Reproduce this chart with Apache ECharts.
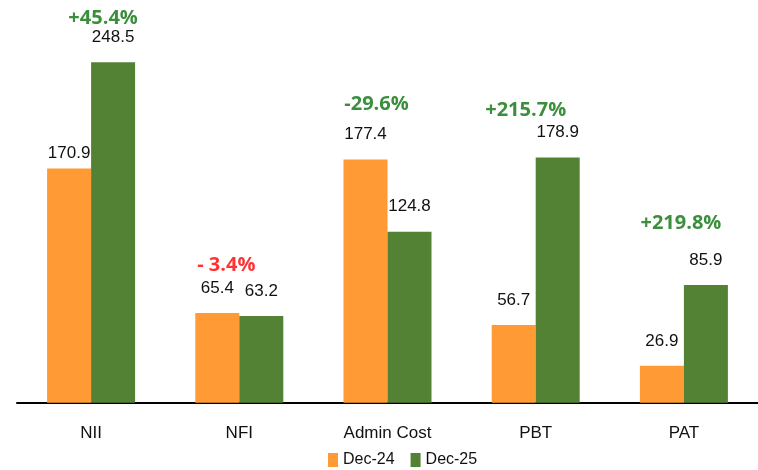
<!DOCTYPE html>
<html>
<head>
<meta charset="utf-8">
<script src="https://cdn.jsdelivr.net/npm/echarts@6/dist/echarts.min.js"></script>
<style>html,body{margin:0;padding:0;background:#fff;}#c{width:758px;height:470px;}</style>
</head>
<body>
<div id="c"></div>
<script>
const categories = ['NII', 'NFI', 'Admin Cost', 'PBT', 'PAT'];
const dec24 = [170.9, 65.4, 177.4, 56.7, 26.9];
const dec25 = [248.5, 63.2, 124.8, 178.9, 85.9];
const changeLabels = ['+45.4%', '- 3.4%', '-29.6%', '+215.7%', '+219.8%'];
const seriesNames = ['Dec-24', 'Dec-25'];

const changeColors = ['#0A720A', '#FF0000', '#0A720A', '#0A720A', '#0A720A'];
const changeOffsets = [[12, -44], [-13, -48], [-11, -55], [-10, -47], [-3, -62]];

const valueFont = '"Liberation Sans Narrow", "Liberation Sans", Arial, sans-serif';
const boldFont = '"Open Sans", Lato, sans-serif';

const chart = echarts.init(document.getElementById('c'), null, {renderer: 'canvas'});

function valueLabel() {
  return {
    show: true, position: 'top', distance: 16,
    fontFamily: valueFont, fontSize: 17, lineHeight: 18, color: '#111'
  };
}

const d24 = dec24.map((v, i) => i === 0 ? {value: v, label: {distance: 6}} : v);

chart.setOption({
  animation: false,
  backgroundColor: '#fff',
  grid: {left: 17, right: -20, top: 19, bottom: 67.3, containLabel: false},
  legend: {
    data: seriesNames,
    left: 328, top: 452, padding: 0,
    itemWidth: 10, itemHeight: 14, itemGap: 16,
    icon: 'rect',
    textStyle: {fontFamily: valueFont, fontSize: 16, lineHeight: 16, color: '#111'}
  },
  xAxis: {
    type: 'category',
    data: categories,
    axisLine: {show: true, lineStyle: {color: '#000', width: 2}},
    axisTick: {show: false},
    axisLabel: {fontFamily: valueFont, fontSize: 17, lineHeight: 17, color: '#111', margin: 22}
  },
  yAxis: {
    type: 'value', min: 0, max: 280, show: false,
    splitLine: {show: false}
  },
  series: [
    {
      name: seriesNames[0], type: 'bar', data: d24,
      barWidth: 44, barGap: '0%',
      itemStyle: {color: '#FF9A35'},
      label: valueLabel()
    },
    {
      name: seriesNames[1], type: 'bar', data: dec25,
      barWidth: 44, barGap: '0%',
      itemStyle: {color: '#548235'},
      label: valueLabel()
    },
    {
      name: 'change', type: 'scatter', symbolSize: 0,
      silent: true,
      data: categories.map((c, i) => ({
        value: Math.max(dec24[i], dec25[i]),
        label: {
          show: true, position: 'inside', offset: changeOffsets[i],
          formatter: changeLabels[i], color: changeColors[i],
          fontFamily: boldFont, fontWeight: 'bold', fontSize: 20
        }
      }))
    }
  ]
});
</script>
</body>
</html>
